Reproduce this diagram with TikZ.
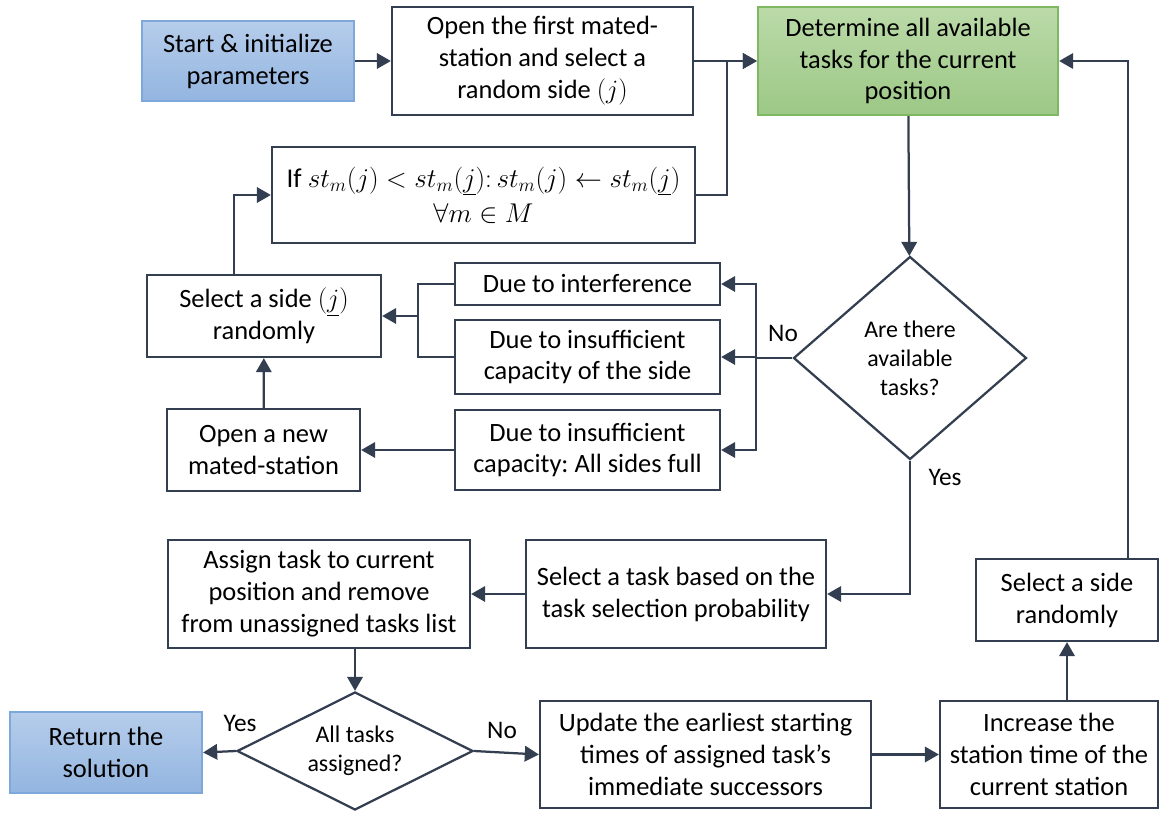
\documentclass[tikz,border=0pt]{standalone}
\usepackage{fix-cm}
\usepackage{fontspec}
\setmainfont{Carlito}
\usetikzlibrary{arrows.meta,shapes.geometric}
\frenchspacing

\definecolor{ink}{HTML}{333F50}
\definecolor{bluetop}{HTML}{B6CDEB}
\definecolor{bluebot}{HTML}{93B5E0}
\definecolor{blueline}{HTML}{7DA8D9}
\definecolor{greentop}{HTML}{BBDAA8}
\definecolor{greenbot}{HTML}{9CC886}
\definecolor{greenline}{HTML}{7FB862}

\begin{document}
\begin{tikzpicture}[
box/.style = {% process steps
    draw=ink, line width=1.6pt, align=center, inner sep=0pt,
    font=\fontsize{18.8}{22.7}\selectfont,
            },
term/.style = {% start and end
    box, draw=blueline, top color=bluetop, bottom color=bluebot,
            },
decide/.style = {% questions
    diamond, draw=ink, line width=1.6pt, align=center, inner sep=0pt,
    font=\fontsize{17}{20.5}\selectfont,
            },
arr/.style = {% connectors
    draw=ink, line width=1.6pt, -{Triangle[length=10pt,width=11pt]},
            },
lbl/.style = {font=\fontsize{18}{20}\selectfont},
                    ]
\useasboundingbox (0,0) rectangle (29,-20.325);

% top row
\node[term, minimum width=5.3cm, minimum height=2cm] (start) at (6.2,-1.525)
    {Start \& initialize\\parameters};
\node[box, minimum width=7.525cm, minimum height=2.7cm] (open1) at (13.5625,-1.525)
    {Open the first mated-\\station and select a\\random side $(j)$};
\node[box, draw=greenline, top color=greentop, bottom color=greenbot,
      minimum width=7.5cm, minimum height=2.7cm] (determine) at (22.7,-1.525)
    {Determine all available\\tasks for the current\\position};
\node[box, font=\fontsize{19.3}{25}\selectfont,
      minimum width=10.575cm, minimum height=2.4cm] (formula) at (12.0875,-4.875)
    {If $st_m(j) < st_m(\underline{j})\colon st_m(j) \leftarrow st_m(\underline{j})$\\
     $\forall m \in M$};

% reasons for a new side
\node[box, minimum width=5.85cm, minimum height=2.05cm] (sidesel) at (6.6,-7.9)
    {Select a side $(\underline{j})$\\randomly};
\node[box, minimum width=6.625cm, minimum height=1.05cm] (interf) at (14.6875,-7.1)
    {Due to interference};
\node[box, minimum width=6.625cm, minimum height=1.85cm] (insuff) at (14.6875,-8.925)
    {Due to insufficient\\capacity of the side};
\node[box, minimum width=6.625cm, minimum height=2cm] (full) at (14.6875,-11.25)
    {Due to insufficient\\capacity: All sides full};
\node[box, minimum width=4.825cm, minimum height=2.05cm] (opennew) at (6.5875,-11.25)
    {Open a new\\mated-station};
\node[decide, minimum width=5.825cm, minimum height=5.075cm] (avail) at (22.75,-8.95)
    {Are there\\available\\tasks?};

% assignment
\node[box, minimum width=7.5cm, minimum height=2.7cm] (seltask) at (16.9,-14.85)
    {Select a task based on the\\task selection probability};
\node[box, minimum width=7.55cm, minimum height=2.7cm] (assign) at (7.975,-14.85)
    {Assign task to current\\position and remove\\from unassigned tasks list};
\node[box, minimum width=4.55cm, minimum height=2.05cm] (sideside) at (26.675,-15)
    {Select a side\\randomly};

% bottom row
\node[decide, shape aspect=2, minimum width=5.9cm, minimum height=2.95cm] (alldone) at (8.875,-18.775)
    {All tasks\\assigned?};
\node[term, minimum width=4.8cm, minimum height=2.025cm] (return) at (2.65,-18.8125)
    {Return the\\solution};
\node[box, minimum width=8.275cm, minimum height=2.675cm] (update) at (17.6375,-18.8625)
    {Update the earliest starting\\times of assigned task’s\\immediate successors};
\node[box, minimum width=5.45cm, minimum height=2.675cm] (increase) at (26.225,-18.8625)
    {Increase the\\station time of the\\current station};

\coordinate (jt) at (18.175,-4.875);
\coordinate (jr) at (18.9,-8.95);
\coordinate (jl) at (10.45,-7.9);
\coordinate (jv) at (5.85,-6);
\coordinate (jrr) at (28.2,-14);

\draw[arr] (start) -- (open1);
\draw[arr] (open1) -- (determine);
\draw[arr] (formula.east) -- (jt) |- (determine.west);
\draw[arr] (determine) -- (avail);
\draw[arr] (avail.west) -- (jr) |- (interf.east);
\draw[arr] (jr) |- (insuff.east);
\draw[arr] (jr) |- (full.east);
\draw[draw=ink, line width=1.6pt] (interf.west) -| (jl);
\draw[draw=ink, line width=1.6pt] (insuff.west) -| (jl);
\draw[arr] (jl) -- (sidesel.east);
\draw[arr] (full) -- (opennew);
\draw[arr] (opennew) -- (sidesel);
\draw[arr] (sidesel.north -| jv) |- (formula.west);
\draw[arr] (avail.south) |- (seltask.east);
\draw[arr] (seltask) -- (assign);
\draw[arr] (alldone.north |- assign.south) -- (alldone.north);
\draw[arr] (alldone.west) -- (return.east);
\draw[arr] (alldone.east) -- (update.west);
\draw[arr] (update) -- (increase);
\draw[arr] (increase.north -| sideside) -- (sideside.south);
\draw[arr] (sideside.north -| jrr) |- (determine.east);

\node[lbl] (no1) at (19.575,-8.325) {No};
\node[lbl] (yes1) at (23.625,-11.925) {Yes};
\node[lbl] (yes2) at (6.0,-18.075) {Yes};
\node[lbl] (no2) at (12.55,-18.25) {No};

\end{tikzpicture}
\end{document}
